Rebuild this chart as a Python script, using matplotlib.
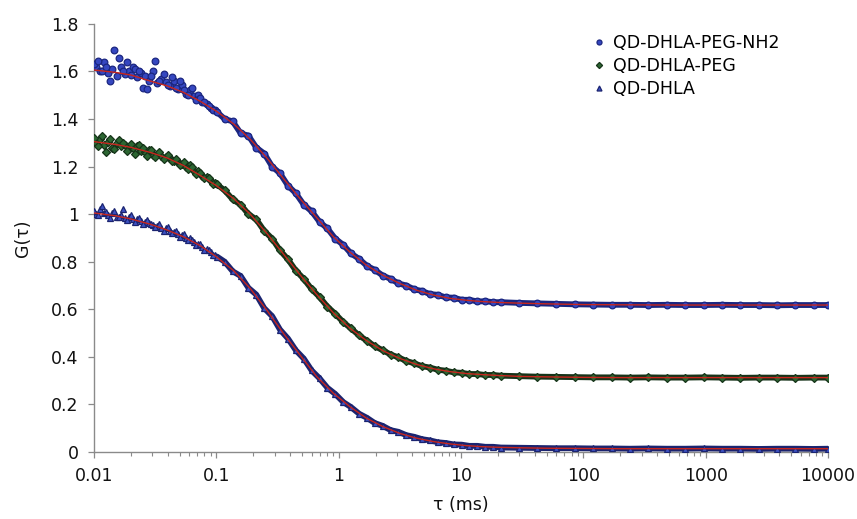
import matplotlib.pyplot as plt
from matplotlib.ticker import FuncFormatter, LogLocator, NullFormatter

# fitted curves (red lines)
tau_fit = [0.01, 0.015, 0.02, 0.0287, 0.0393, 0.0538, 0.0736, 0.1, 0.138, 0.189,
           0.258, 0.353, 0.483, 0.662, 0.906, 1.24, 1.69, 2.32, 3.18, 4.35,
           5.96, 8.15, 11.1, 14.5, 20, 30, 50, 100, 200, 500, 1000, 2000, 5000, 10000]
nh2_fit = [1.606, 1.596, 1.585, 1.560, 1.540, 1.512, 1.475, 1.433, 1.380, 1.315,
           1.237, 1.150, 1.065, 0.985, 0.905, 0.840, 0.785, 0.742, 0.708, 0.680,
           0.660, 0.646, 0.638, 0.633, 0.629, 0.626, 0.623, 0.620, 0.619, 0.618, 0.618, 0.618, 0.618, 0.618]
peg_fit = [1.305, 1.293, 1.281, 1.260, 1.237, 1.205, 1.163, 1.120, 1.066, 1.000,
           0.920, 0.833, 0.745, 0.662, 0.585, 0.520, 0.468, 0.425, 0.393, 0.368,
           0.350, 0.338, 0.330, 0.326, 0.322, 0.318, 0.316, 0.314, 0.313, 0.313, 0.313, 0.313, 0.313, 0.313]
dhla_fit = [1.005, 0.993, 0.980, 0.958, 0.934, 0.905, 0.868, 0.821, 0.763, 0.688,
            0.597, 0.499, 0.408, 0.317, 0.247, 0.190, 0.142, 0.106, 0.078, 0.058,
            0.044, 0.034, 0.027, 0.023, 0.020, 0.018, 0.016, 0.015, 0.014, 0.014, 0.014, 0.014, 0.014, 0.014]

# measured points
tau_pts = [0.0100, 0.0108, 0.0117, 0.0126, 0.0136, 0.0147, 0.0159, 0.0171, 0.0185, 0.0200,
           0.0216, 0.0233, 0.0252, 0.0272, 0.0294, 0.0317, 0.0343, 0.0370, 0.0400, 0.0432,
           0.0466, 0.0504, 0.0544, 0.0587, 0.0634, 0.0685, 0.0740, 0.0799, 0.0863, 0.0932, 0.101,
           0.117, 0.136, 0.158, 0.183, 0.212, 0.246, 0.286, 0.331, 0.385, 0.446,
           0.518, 0.601, 0.697, 0.809, 0.938, 1.09, 1.26, 1.47, 1.70, 1.97,
           2.29, 2.66, 3.08, 3.57, 4.15, 4.81, 5.58, 6.47, 7.51, 8.71,
           10.1, 11.7, 13.6, 15.8, 18.3, 21.2,
           30, 42, 60, 85, 120, 170, 240, 340, 480, 680,
           960, 1360, 1920, 2710, 3830, 5410, 7640, 10000]
nh2_pts = [1.630, 1.645, 1.600, 1.620, 1.560, 1.690, 1.655, 1.600, 1.640, 1.585,
           1.610, 1.600, 1.530, 1.525, 1.580, 1.645, 1.560, 1.590, 1.545, 1.575,
           1.530, 1.560, 1.520, 1.500, 1.530, 1.480, 1.490, 1.470, 1.455, 1.440, 1.430,
           1.400, 1.390, 1.340, 1.330, 1.280, 1.255, 1.200, 1.172, 1.120, 1.088,
           1.040, 1.012, 0.968, 0.940, 0.897, 0.871, 0.835, 0.812, 0.783, 0.766,
           0.742, 0.728, 0.709, 0.700, 0.684, 0.677, 0.664, 0.661, 0.650, 0.649,
           0.640, 0.640, 0.633, 0.634, 0.630, 0.630,
           0.627, 0.625, 0.623, 0.621, 0.620, 0.619, 0.619, 0.618, 0.619, 0.618,
           0.618, 0.619, 0.618, 0.618, 0.617, 0.618, 0.618, 0.618]
peg_pts = [1.320, 1.285, 1.330, 1.260, 1.315, 1.275, 1.310, 1.300, 1.265, 1.295,
           1.255, 1.290, 1.280, 1.245, 1.270, 1.240, 1.262, 1.230, 1.250, 1.222,
           1.232, 1.205, 1.220, 1.190, 1.198, 1.168, 1.175, 1.150, 1.150, 1.125, 1.125,
           1.100, 1.062, 1.040, 1.000, 0.978, 0.930, 0.897, 0.848, 0.810, 0.763,
           0.728, 0.685, 0.652, 0.611, 0.581, 0.546, 0.520, 0.490, 0.468, 0.445,
           0.428, 0.410, 0.398, 0.383, 0.373, 0.361, 0.355, 0.346, 0.342, 0.335,
           0.333, 0.328, 0.328, 0.324, 0.324, 0.321,
           0.319, 0.317, 0.316, 0.315, 0.314, 0.314, 0.313, 0.314, 0.313, 0.313,
           0.314, 0.313, 0.312, 0.313, 0.313, 0.312, 0.313, 0.313]
dhla_pts = [1.012, 0.998, 1.035, 1.010, 0.985, 1.015, 0.990, 1.020, 0.975, 0.995,
            0.965, 0.985, 0.958, 0.975, 0.960, 0.945, 0.958, 0.930, 0.945, 0.920,
            0.930, 0.905, 0.915, 0.890, 0.893, 0.870, 0.875, 0.850, 0.850, 0.828, 0.822,
            0.800, 0.760, 0.740, 0.690, 0.662, 0.605, 0.571, 0.515, 0.477, 0.428,
            0.393, 0.343, 0.310, 0.270, 0.244, 0.210, 0.189, 0.161, 0.144, 0.122,
            0.110, 0.092, 0.085, 0.071, 0.064, 0.054, 0.049, 0.041, 0.038, 0.032,
            0.031, 0.026, 0.026, 0.022, 0.022, 0.019,
            0.018, 0.017, 0.016, 0.016, 0.015, 0.015, 0.014, 0.015, 0.014, 0.014,
            0.015, 0.014, 0.014, 0.013, 0.014, 0.014, 0.013, 0.014]

# extra points of the dense, noisy start (0.01 - 0.1 ms)
tau_early = [0.0104, 0.0112, 0.0121, 0.0131, 0.0141, 0.0153, 0.0165, 0.0178, 0.0192, 0.0208,
             0.0224, 0.0242, 0.0262, 0.0283, 0.0305, 0.0330, 0.0356, 0.0385, 0.0416, 0.0449,
             0.0485, 0.0524, 0.0565, 0.0610, 0.0659, 0.0712, 0.0769, 0.0831, 0.0897, 0.0970]
nh2_early = [1.620, 1.600, 1.640, 1.595, 1.610, 1.580, 1.620, 1.590, 1.600, 1.620,
             1.575, 1.595, 1.580, 1.560, 1.600, 1.550, 1.570, 1.555, 1.540, 1.560,
             1.525, 1.545, 1.505, 1.520, 1.495, 1.500, 1.470, 1.465, 1.445, 1.440]
peg_early = [1.300, 1.315, 1.290, 1.305, 1.280, 1.300, 1.285, 1.290, 1.275, 1.280,
             1.285, 1.265, 1.260, 1.270, 1.250, 1.255, 1.245, 1.240, 1.235, 1.225,
             1.218, 1.210, 1.200, 1.205, 1.180, 1.180, 1.160, 1.155, 1.140, 1.132]
dhla_early = [1.000, 1.020, 1.005, 0.995, 1.005, 0.990, 0.998, 0.985, 0.990, 0.978,
              0.980, 0.970, 0.968, 0.962, 0.955, 0.950, 0.940, 0.940, 0.930, 0.925,
              0.918, 0.912, 0.900, 0.898, 0.882, 0.875, 0.862, 0.852, 0.840, 0.830]

labels = ["QD-DHLA-PEG-NH2", "QD-DHLA-PEG", "QD-DHLA"]
x_ticks = [0.01, 0.1, 1, 10, 100, 1000, 10000]
y_ticks = [0, 0.2, 0.4, 0.6, 0.8, 1.0, 1.2, 1.4, 1.6, 1.8]

fig = plt.figure(figsize=(8.57, 5.19), dpi=100)
ax = fig.add_axes([0.1097, 0.129, 0.8565, 0.825])

series = [
    (nh2_pts, nh2_early, nh2_fit, 'o', '#3547c0', '#1b2680'),
    (peg_pts, peg_early, peg_fit, 'D', '#2c6632', '#163319'),
    (dhla_pts, dhla_early, dhla_fit, '^', '#3d52c4', '#1b2470'),
]
# the dense, low-noise tail of each series reads as a continuous band
band_from = 30
handles = []
for (pts, early, fit, mk, fc, ec), lab in zip(series, labels):
    ms = 4.8 if mk != 'D' else 4.2
    ax.plot(tau_pts[band_from:], pts[band_from:], '-', color=ec, lw=4.2, zorder=2,
            solid_capstyle='round')
    ax.plot(tau_early, early, mk, ls='none', mfc=fc, mec=ec, ms=ms, mew=0.9, zorder=3)
    h, = ax.plot(tau_pts, pts, mk, ls='none', mfc=fc, mec=ec, ms=ms,
                 mew=0.9, zorder=3, label=lab)
    handles.append(h)
    ax.plot(tau_fit, fit, color='#c8261e', lw=1.0, zorder=4)

ax.set_xscale('log')
ax.set_xlim(0.01, 10000)
ax.set_ylim(0, 1.8)
ax.set_xticks(x_ticks)
ax.set_yticks(y_ticks)
ax.xaxis.set_minor_locator(LogLocator(base=10, subs=range(2, 10), numticks=100))
ax.xaxis.set_minor_formatter(NullFormatter())
fmt = FuncFormatter(lambda v, p: '%g' % v)
ax.xaxis.set_major_formatter(fmt)
ax.yaxis.set_major_formatter(fmt)

for s in ['top', 'right']:
    ax.spines[s].set_visible(False)
for s in ['left', 'bottom']:
    ax.spines[s].set_color('#8a8a8a')
    ax.spines[s].set_linewidth(1.0)
ax.tick_params(axis='both', which='major', direction='out', length=4, width=0.9,
               color='#8a8a8a', labelsize=12.5, pad=7, labelcolor='#111111')
ax.tick_params(axis='x', which='minor', direction='out', length=3, width=0.8, color='#8a8a8a')

ax.set_xlabel('τ (ms)', fontsize=12.5, color='#111111', labelpad=8)
ax.set_ylabel('G(τ)', fontsize=12.5, color='#111111', labelpad=14)

ax.legend(handles=handles, loc='upper left', bbox_to_anchor=(0.693, 0.935),
          bbox_transform=fig.transFigure, frameon=False, fontsize=12.5,
          handlelength=0.6, handletextpad=0.5, labelspacing=0.3,
          markerscale=0.75, borderpad=0, borderaxespad=0)

fig.savefig('out.png', dpi=100, facecolor='white')
